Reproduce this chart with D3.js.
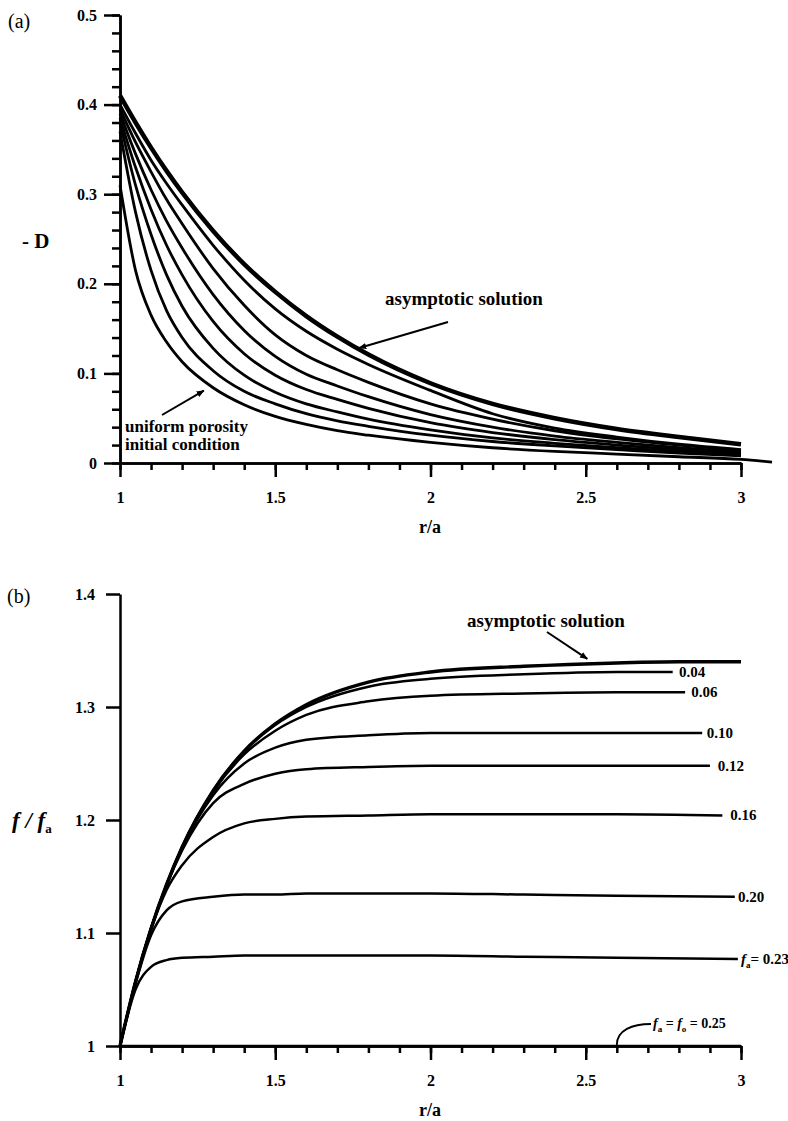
<!DOCTYPE html>
<html>
<head>
<meta charset="utf-8">
<script src="https://cdn.jsdelivr.net/npm/d3@7"></script>
<style>
  body { margin: 0; background: #fff; }
  svg text { font-family: "Liberation Serif", "Times New Roman", "DejaVu Serif", serif; fill: #000; }
  .axis path, .axis line { stroke: #000; stroke-width: 2.5; }
  .axis text { font-size: 16px; font-weight: bold; }
</style>
</head>
<body>
<div id="chart"></div>
<script>
// Panel (a): -D against r/a
var topR = [1, 1.05, 1.1, 1.15, 1.2, 1.3, 1.4, 1.5, 1.6, 1.7, 1.8, 2.0, 2.2, 2.4, 2.6, 2.8, 3.0];
var dAsymptotic = [0.41, 0.38, 0.352, 0.326, 0.302, 0.259, 0.222, 0.191, 0.164, 0.141, 0.121, 0.089, 0.066, 0.050, 0.038, 0.029, 0.021];
var dCurve6 = [0.40, 0.368, 0.338, 0.312, 0.288, 0.243, 0.204, 0.172, 0.147, 0.127, 0.110, 0.081, 0.055, 0.039, 0.029, 0.021, 0.015];
var dCurve5 = [0.395, 0.358, 0.325, 0.294, 0.267, 0.217, 0.176, 0.143, 0.120, 0.104, 0.090, 0.066, 0.049, 0.036, 0.027, 0.020, 0.014];
var dCurve4 = [0.39, 0.345, 0.305, 0.27, 0.24, 0.188, 0.148, 0.119, 0.099, 0.086, 0.074, 0.054, 0.040, 0.030, 0.023, 0.017, 0.012];
var dCurve3 = [0.385, 0.33, 0.283, 0.243, 0.21, 0.158, 0.122, 0.098, 0.082, 0.071, 0.061, 0.045, 0.034, 0.026, 0.020, 0.015, 0.011];
var dCurve2 = [0.38, 0.31, 0.255, 0.21, 0.175, 0.128, 0.098, 0.079, 0.066, 0.057, 0.049, 0.037, 0.028, 0.022, 0.017, 0.013, 0.009];
var dCurve1 = [0.37, 0.28, 0.215, 0.17, 0.14, 0.103, 0.080, 0.066, 0.055, 0.047, 0.041, 0.031, 0.024, 0.019, 0.015, 0.011, 0.008];
var initR = [1, 1.05, 1.1, 1.15, 1.2, 1.3, 1.4, 1.5, 1.6, 1.7, 1.8, 2.0, 2.2, 2.4, 2.6, 2.8, 3.0, 3.1];
var dInitial = [0.31, 0.215, 0.165, 0.135, 0.113, 0.084, 0.065, 0.052, 0.043, 0.036, 0.031, 0.023, 0.017, 0.013, 0.010, 0.007, 0.004, 0.001];

// Panel (b): f/fa against r/a
var botR = [1, 1.05, 1.1, 1.15, 1.2, 1.3, 1.4, 1.5, 1.6, 1.8, 2.0, 2.3, 2.6, 2.8, 3.0];
var fAsymptotic = [1.0, 1.057, 1.104, 1.143, 1.176, 1.226, 1.261, 1.285, 1.302, 1.322, 1.331, 1.336, 1.339, 1.34, 1.34];
var f004 = [1.0, 1.057, 1.104, 1.143, 1.176, 1.226, 1.261, 1.284, 1.300, 1.318, 1.325, 1.329, 1.331, 1.331];
var f006 = [1.0, 1.057, 1.104, 1.143, 1.176, 1.225, 1.258, 1.279, 1.293, 1.305, 1.310, 1.312, 1.313, 1.313];
var f010 = [1.0, 1.057, 1.104, 1.142, 1.175, 1.222, 1.250, 1.264, 1.271, 1.275, 1.277, 1.277, 1.277, 1.277];
var f012 = [1.0, 1.057, 1.104, 1.142, 1.173, 1.215, 1.232, 1.241, 1.245, 1.247, 1.248, 1.248, 1.248, 1.248];
var f016 = [1.0, 1.057, 1.103, 1.138, 1.160, 1.185, 1.197, 1.201, 1.203, 1.204, 1.205, 1.205, 1.205, 1.204];
var f020 = [1.0, 1.055, 1.098, 1.120, 1.128, 1.132, 1.134, 1.134, 1.135, 1.135, 1.135, 1.134, 1.133, 1.132];
var f023 = [1.0, 1.05, 1.07, 1.076, 1.078, 1.079, 1.080, 1.080, 1.080, 1.080, 1.080, 1.079, 1.078, 1.077];
var f025 = [1.0, 1.0];
var endR = { f004: 2.78, f006: 2.82, f010: 2.875, f012: 2.9, f016: 2.94, f020: 2.98, f023: 2.99, f025: 3.0 };

var botLabels = [
  { text: "0.04", v: 1.331, x: 2.80 },
  { text: "0.06", v: 1.313, x: 2.84 },
  { text: "0.10", v: 1.277, x: 2.89 },
  { text: "0.12", v: 1.248, x: 2.925 },
  { text: "0.16", v: 1.204, x: 2.965 },
  { text: "0.20", v: 1.132, x: 2.99 }
];

var svgWidth = 788;
var svgHeight = 1121;

var svg = d3.select("#chart")
  .append("svg")
  .attr("width", svgWidth)
  .attr("height", svgHeight)
  .attr("font-family", "Liberation Serif, Times New Roman, serif");

svg.append("rect").attr("width", svgWidth).attr("height", svgHeight).attr("fill", "#fff");

// scales
var xTop = d3.scaleLinear().domain([1, 3]).range([120, 741]);
var yTop = d3.scaleLinear().domain([0, 0.5]).range([463, 15]);
var xBot = d3.scaleLinear().domain([1, 3]).range([120, 741]);
var yBot = d3.scaleLinear().domain([1, 1.4]).range([1046, 594]);

var fmtX = function (d) { return d3.format("")(d); };

// ---------- panel (a) axes ----------
svg.append("g").attr("class", "axis")
  .attr("transform", "translate(0,463)")
  .call(d3.axisBottom(xTop).tickValues(d3.range(10, 31).map(d => d / 10)).tickSize(7).tickSizeOuter(0).tickFormat(""));
svg.append("g").attr("class", "axis")
  .attr("transform", "translate(0,463)")
  .call(d3.axisBottom(xTop).tickValues([1, 1.5, 2, 2.5, 3]).tickSize(14).tickPadding(15).tickSizeOuter(0).tickFormat(fmtX));

svg.append("g").attr("class", "axis")
  .attr("transform", "translate(120,0)")
  .call(d3.axisLeft(yTop).tickValues(d3.range(0, 26).map(d => d / 50)).tickSize(8).tickSizeOuter(0).tickFormat(""));
svg.append("g").attr("class", "axis")
  .attr("transform", "translate(120,0)")
  .call(d3.axisLeft(yTop).tickValues([0, 0.1, 0.2, 0.3, 0.4, 0.5]).tickSize(16).tickPadding(7).tickSizeOuter(0).tickFormat(d => d === 0 ? "0" : d3.format(".1f")(d)));

// ---------- panel (b) axes ----------
svg.append("g").attr("class", "axis")
  .attr("transform", "translate(0,1046)")
  .call(d3.axisBottom(xBot).tickValues(d3.range(10, 31).map(d => d / 10)).tickSize(7).tickSizeOuter(0).tickFormat(""));
svg.append("g").attr("class", "axis")
  .attr("transform", "translate(0,1046)")
  .call(d3.axisBottom(xBot).tickValues([1, 1.5, 2, 2.5, 3]).tickSize(14).tickPadding(15).tickSizeOuter(0).tickFormat(fmtX));
svg.append("g").attr("class", "axis")
  .attr("transform", "translate(120,0)")
  .call(d3.axisLeft(yBot).tickValues([1, 1.1, 1.2, 1.3, 1.4]).tickSize(14).tickPadding(11).tickSizeOuter(0).tickFormat(d => d === 1 ? "1" : d3.format(".1f")(d)));

// ---------- curves ----------
var lineTop = d3.line().curve(d3.curveMonotoneX).x(d => xTop(d[0])).y(d => yTop(d[1]));
var lineBot = d3.line().curve(d3.curveMonotoneX).x(d => xBot(d[0])).y(d => yBot(d[1]));

var topSeries = [
  { r: initR, v: dInitial, w: 2.8 },
  { r: topR, v: dCurve1, w: 2.8 },
  { r: topR, v: dCurve2, w: 2.8 },
  { r: topR, v: dCurve3, w: 2.8 },
  { r: topR, v: dCurve4, w: 2.8 },
  { r: topR, v: dCurve5, w: 2.8 },
  { r: topR, v: dCurve6, w: 2.8 },
  { r: topR, v: dAsymptotic, w: 4.5 }
];

svg.append("g").selectAll("path")
  .data(topSeries)
  .enter()
  .append("path")
  .attr("d", s => lineTop(s.v.map((v, i) => [s.r[i], v])))
  .attr("fill", "none")
  .attr("stroke", "#000")
  .attr("stroke-width", s => s.w);

function withEnd(vals, end) {
  var pts = [];
  vals.forEach(function (v, i) {
    if (i < vals.length - 1) pts.push([botR[i], v]);
  });
  pts.push([end, vals[vals.length - 1]]);
  return pts;
}

var botSeries = [
  { pts: withEnd(f025, endR.f025), w: 2.5 },
  { pts: withEnd(f023, endR.f023), w: 2.5 },
  { pts: withEnd(f020, endR.f020), w: 2.5 },
  { pts: withEnd(f016, endR.f016), w: 2.5 },
  { pts: withEnd(f012, endR.f012), w: 2.5 },
  { pts: withEnd(f010, endR.f010), w: 2.5 },
  { pts: withEnd(f006, endR.f006), w: 2.5 },
  { pts: withEnd(f004, endR.f004), w: 2.5 },
  { pts: fAsymptotic.map((v, i) => [botR[i], v]), w: 3.4 }
];

svg.append("g").selectAll("path")
  .data(botSeries)
  .enter()
  .append("path")
  .attr("d", s => lineBot(s.pts))
  .attr("fill", "none")
  .attr("stroke", "#000")
  .attr("stroke-width", s => s.w);

// ---------- arrow heads ----------
svg.append("defs").append("marker")
  .attr("id", "arrow")
  .attr("viewBox", "0 0 10 10")
  .attr("refX", 9).attr("refY", 5)
  .attr("markerWidth", 8).attr("markerHeight", 8)
  .attr("markerUnits", "userSpaceOnUse")
  .attr("orient", "auto")
  .append("path").attr("d", "M0,1 L10,5 L0,9 Z").attr("fill", "#000");

function arrow(x1, y1, x2, y2) {
  svg.append("line")
    .attr("x1", x1).attr("y1", y1).attr("x2", x2).attr("y2", y2)
    .attr("stroke", "#000").attr("stroke-width", 2)
    .attr("marker-end", "url(#arrow)");
}

// ---------- texts panel (a) ----------
svg.append("text").attr("x", 8).attr("y", 28).attr("font-size", 20).text("(a)");
svg.append("text").attr("x", 22).attr("y", 248).attr("font-size", 21).attr("font-weight", "bold").text("- D");
svg.append("text").attr("x", 430).attr("y", 533).attr("text-anchor", "middle").attr("font-size", 18).attr("font-weight", "bold").text("r/a");

svg.append("text").attr("x", 385).attr("y", 305).attr("font-size", 19).attr("font-weight", "bold").text("asymptotic solution");
arrow(448, 322, xTop(1.77), yTop(0.125) - 3);

svg.append("text").attr("x", 125).attr("y", 432).attr("font-size", 17).attr("font-weight", "bold").text("uniform porosity");
svg.append("text").attr("x", 125).attr("y", 450).attr("font-size", 17).attr("font-weight", "bold").text("initial condition");
arrow(162, 415, xTop(1.27), yTop(0.084) + 3);

// ---------- texts panel (b) ----------
svg.append("text").attr("x", 7).attr("y", 603).attr("font-size", 20).text("(b)");
var fl = svg.append("text").attr("x", 12).attr("y", 828).attr("font-size", 23).attr("font-weight", "bold");
fl.append("tspan").attr("font-style", "italic").text("f / f");
fl.append("tspan").attr("font-size", 13).attr("dy", 5).text("a");
svg.append("text").attr("x", 430).attr("y", 1116).attr("text-anchor", "middle").attr("font-size", 18).attr("font-weight", "bold").text("r/a");

svg.append("text").attr("x", 467).attr("y", 627).attr("font-size", 19).attr("font-weight", "bold").text("asymptotic solution");
arrow(547, 632, xBot(2.505), yBot(1.34) - 3);

svg.append("g").selectAll("text")
  .data(botLabels)
  .enter()
  .append("text")
  .attr("x", d => xBot(d.x))
  .attr("y", d => yBot(d.v) + 5)
  .attr("font-size", 15)
  .attr("font-weight", "bold")
  .text(d => d.text);

var l23 = svg.append("text").attr("x", xBot(3.0)).attr("y", yBot(1.077) + 5).attr("font-size", 15).attr("font-weight", "bold");
l23.append("tspan").attr("font-style", "italic").text("f");
l23.append("tspan").attr("font-size", 9).attr("dy", 4).text("a");
l23.append("tspan").attr("dy", -4).text("= 0.23");

var l25 = svg.append("text").attr("x", 653).attr("y", 1028).attr("font-size", 14).attr("font-weight", "bold");
l25.append("tspan").attr("font-style", "italic").text("f");
l25.append("tspan").attr("font-size", 9).attr("dy", 4).text("a");
l25.append("tspan").attr("dy", -4).text(" = ");
l25.append("tspan").attr("font-style", "italic").text("f");
l25.append("tspan").attr("font-size", 9).attr("dy", 4).text("o");
l25.append("tspan").attr("dy", -4).text(" = 0.25");

svg.append("path")
  .attr("d", "M" + xBot(2.6) + "," + (yBot(1) - 1) + " C" + xBot(2.6) + "," + (yBot(1) - 16) + " " + xBot(2.65) + "," + (yBot(1) - 22) + " 651," + (yBot(1) - 22))
  .attr("fill", "none").attr("stroke", "#000").attr("stroke-width", 1.8);
</script>
</body>
</html>
